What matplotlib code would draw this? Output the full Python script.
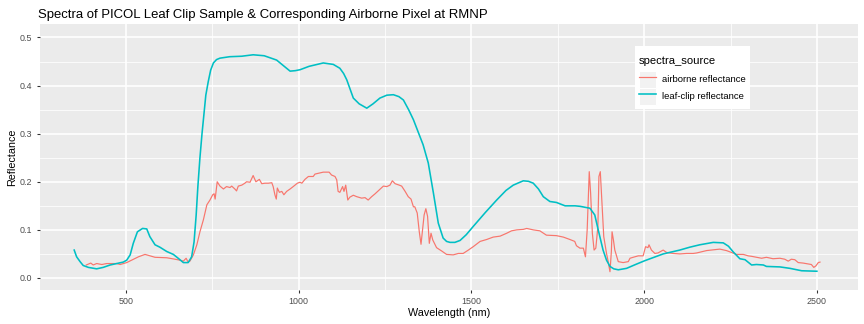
import matplotlib
matplotlib.use("Agg")
import matplotlib.pyplot as plt
from matplotlib.patches import Rectangle
from matplotlib.legend_handler import HandlerLine2D
from matplotlib.offsetbox import DrawingArea
from matplotlib.ticker import MultipleLocator

plt.rcParams['font.family'] = ['Liberation Sans', 'DejaVu Sans']

# airborne pixel spectrum (noisy, ~5 nm bands)
air_wl = [385, 398, 405, 415, 430, 444, 473, 483, 502, 516, 536, 555, 565, 584,
          618, 642, 656, 666, 674, 679, 685, 695, 705, 714, 724, 734, 743, 751,
          755, 758, 764, 772, 782, 791, 801, 806, 815, 820, 825, 835, 844, 849,
          859, 868, 876, 886, 893, 902, 912, 922, 926, 931, 935, 938, 944, 951,
          957, 965, 975, 984, 996, 1004, 1009, 1018, 1028, 1042, 1047, 1071,
          1088, 1095, 1105, 1110, 1114, 1119, 1127, 1131, 1136, 1142, 1148,
          1158, 1168, 1182, 1192, 1201, 1211, 1221, 1230, 1245, 1255, 1264,
          1271, 1279, 1291, 1298, 1308, 1317, 1325, 1332, 1336, 1343, 1349,
          1354, 1359, 1363, 1368, 1373, 1378, 1383, 1388, 1399, 1414, 1428,
          1447, 1462, 1476, 1491, 1505, 1525, 1544, 1563, 1583, 1602, 1616,
          1631, 1650, 1660, 1679, 1698, 1717, 1746, 1766, 1785, 1799, 1804,
          1814, 1824, 1830, 1835, 1839, 1841, 1845, 1850, 1855, 1860, 1866,
          1869, 1873, 1878, 1883, 1891, 1895, 1901, 1905, 1907, 1911, 1915,
          1925, 1939, 1954, 1959, 1968, 1983, 1997, 2004, 2011, 2014, 2021,
          2031, 2040, 2055, 2065, 2084, 2103, 2123, 2142, 2152, 2181, 2219,
          2238, 2253, 2267, 2287, 2301, 2311, 2325, 2340, 2354, 2373, 2393,
          2407, 2417, 2426, 2436, 2446, 2460, 2475, 2484, 2491, 2497, 2504, 2509]
air_refl = [0.027, 0.031, 0.027, 0.030, 0.028, 0.030, 0.030, 0.028, 0.032, 0.037,
            0.044, 0.049, 0.047, 0.043, 0.042, 0.039, 0.037, 0.035, 0.041, 0.034,
            0.035, 0.048, 0.069, 0.096, 0.121, 0.152, 0.162, 0.173, 0.175, 0.164,
            0.200, 0.191, 0.185, 0.190, 0.188, 0.191, 0.185, 0.181, 0.191, 0.193,
            0.197, 0.200, 0.199, 0.213, 0.200, 0.205, 0.196, 0.197, 0.197, 0.198,
            0.190, 0.173, 0.164, 0.187, 0.178, 0.180, 0.173, 0.180, 0.185, 0.190,
            0.197, 0.199, 0.197, 0.205, 0.211, 0.211, 0.216, 0.220, 0.220, 0.214,
            0.211, 0.204, 0.180, 0.178, 0.190, 0.180, 0.193, 0.162, 0.168, 0.172,
            0.169, 0.166, 0.167, 0.162, 0.169, 0.175, 0.181, 0.191, 0.190, 0.193,
            0.202, 0.196, 0.193, 0.191, 0.180, 0.169, 0.164, 0.148, 0.148, 0.135,
            0.096, 0.070, 0.103, 0.131, 0.144, 0.128, 0.072, 0.093, 0.079, 0.063,
            0.056, 0.049, 0.048, 0.051, 0.051, 0.058, 0.065, 0.076, 0.080, 0.085,
            0.087, 0.093, 0.098, 0.100, 0.101, 0.103, 0.100, 0.098, 0.089, 0.088,
            0.085, 0.080, 0.076, 0.067, 0.062, 0.062, 0.044, 0.100, 0.183, 0.221,
            0.176, 0.093, 0.058, 0.062, 0.107, 0.211, 0.221, 0.155, 0.086, 0.051,
            0.037, 0.013, 0.055, 0.096, 0.079, 0.058, 0.034, 0.032, 0.034, 0.041,
            0.043, 0.046, 0.046, 0.065, 0.063, 0.069, 0.058, 0.051, 0.052, 0.058,
            0.053, 0.051, 0.050, 0.051, 0.051, 0.052, 0.057, 0.060, 0.057, 0.053,
            0.049, 0.049, 0.046, 0.045, 0.043, 0.041, 0.043, 0.040, 0.041, 0.039,
            0.035, 0.039, 0.038, 0.032, 0.031, 0.029, 0.028, 0.022, 0.025, 0.032,
            0.033]

# leaf-clip spectrum (smooth)
leaf_wl = [350, 357, 367, 376, 391, 415, 434, 454, 473, 492, 502, 512, 521, 533,
           548, 560, 569, 584, 598, 618, 637, 651, 666, 680, 690, 697, 703, 708,
           714, 720, 724, 731, 738, 745, 753, 762, 772, 800, 835, 868, 900, 936,
           958, 975, 990, 1004, 1030, 1071, 1100, 1119, 1130, 1139, 1150, 1158,
           1175, 1197, 1215, 1235, 1255, 1274, 1290, 1303, 1318, 1332, 1346,
           1360, 1375, 1390, 1404, 1418, 1428, 1438, 1452, 1467, 1485, 1505,
           1540, 1573, 1600, 1621, 1650, 1665, 1679, 1694, 1708, 1727, 1746,
           1771, 1800, 1814, 1843, 1857, 1867, 1881, 1891, 1901, 1912, 1925,
           1949, 1975, 2002, 2055, 2103, 2132, 2161, 2200, 2229, 2244, 2258,
           2277, 2292, 2311, 2325, 2345, 2354, 2393, 2422, 2456, 2500]
leaf_refl = [0.058, 0.044, 0.034, 0.026, 0.022, 0.019, 0.022, 0.027, 0.030, 0.033,
             0.037, 0.048, 0.072, 0.096, 0.103, 0.102, 0.086, 0.069, 0.064, 0.055,
             0.049, 0.041, 0.032, 0.032, 0.044, 0.075, 0.130, 0.190, 0.250, 0.300,
             0.329, 0.380, 0.408, 0.432, 0.447, 0.454, 0.457, 0.460, 0.461, 0.464,
             0.462, 0.453, 0.440, 0.430, 0.431, 0.433, 0.440, 0.447, 0.444, 0.436,
             0.425, 0.412, 0.390, 0.374, 0.362, 0.353, 0.362, 0.374, 0.380, 0.381,
             0.377, 0.370, 0.350, 0.329, 0.303, 0.277, 0.239, 0.176, 0.114, 0.083,
             0.076, 0.074, 0.074, 0.078, 0.090, 0.107, 0.136, 0.162, 0.182, 0.193,
             0.202, 0.201, 0.197, 0.185, 0.169, 0.159, 0.157, 0.150, 0.150, 0.149,
             0.145, 0.131, 0.100, 0.058, 0.037, 0.024, 0.019, 0.017, 0.020, 0.028,
             0.036, 0.050, 0.058, 0.064, 0.069, 0.074, 0.073, 0.066, 0.054, 0.040,
             0.038, 0.027, 0.028, 0.027, 0.024, 0.023, 0.020, 0.015, 0.014]

series_names = ["airborne reflectance", "leaf-clip reflectance"]
series_colors = ["#F8766D", "#00BFC4"]


class KeyHandler(HandlerLine2D):
    # grey key background like ggplot's legend.key
    def create_artists(self, legend, orig_handle, xdescent, ydescent,
                       width, height, fontsize, trans):
        bg = Rectangle((-xdescent, -ydescent), width, height,
                       facecolor="#F2F2F2", edgecolor="white", lw=0.8,
                       transform=trans)
        arts = super().create_artists(legend, orig_handle, xdescent, ydescent,
                                      width, height, fontsize, trans)
        return [bg] + list(arts)


fig = plt.figure(figsize=(9, 3.375), dpi=96)
ax = fig.add_axes([40 / 864, 1 - 290 / 324, 818 / 864, 266 / 324])
ax.set_facecolor("#EBEBEB")
for s in ax.spines.values():
    s.set_visible(False)

ax.plot(air_wl, air_refl, color=series_colors[0], lw=0.9, label=series_names[0])
ax.plot(leaf_wl, leaf_refl, color=series_colors[1], lw=1.2, label=series_names[1])

ax.set_xlim(251, 2619)
ax.set_ylim(-0.025, 0.528)
ax.xaxis.set_major_locator(MultipleLocator(500))
ax.xaxis.set_minor_locator(MultipleLocator(250))
ax.yaxis.set_major_locator(MultipleLocator(0.1))
ax.yaxis.set_minor_locator(MultipleLocator(0.05))
ax.yaxis.set_major_formatter(plt.FuncFormatter(lambda v, p: f"{v:.1f}"))
ax.grid(which="major", color="white", lw=1.25)
ax.grid(which="minor", color="white", lw=0.6)
ax.set_axisbelow(True)
ax.tick_params(which="major", length=2.5, width=0.8, color="#333333",
               labelcolor="#4D4D4D", labelsize=6.7)
ax.tick_params(axis="x", pad=2.6)
ax.tick_params(axis="y", pad=3.6)
ax.tick_params(which="minor", length=0)

ax.set_xlabel("Wavelength (nm)", fontsize=8.1, labelpad=1.5)
ax.set_ylabel("Reflectance", fontsize=8.1, labelpad=2)

fig.text(38 / 864, 1 - 18 / 324,
         "Spectra of PICOL Leaf Clip Sample & Corresponding Airborne Pixel at RMNP",
         fontsize=9.8, va="baseline", ha="left")

leg = ax.legend(loc="upper left", bbox_to_anchor=(0.727, 0.917),
                title="spectra_source", title_fontsize=8.4, fontsize=7.1,
                frameon=True, fancybox=False, facecolor="white", edgecolor="none",
                framealpha=1, handlelength=1.8, handleheight=2.39,
                handletextpad=0.63, labelspacing=0, borderpad=0.45,
                borderaxespad=0, alignment="left",
                handler_map={plt.Line2D: KeyHandler()})
# extra room above the legend title, and a gap between title and keys
spacer = DrawingArea(1, 0)
spacer.set_figure(fig)
leg._legend_box._children.insert(0, spacer)
leg._legend_box.sep = 4.0

fig.savefig("out.png", dpi=96)
